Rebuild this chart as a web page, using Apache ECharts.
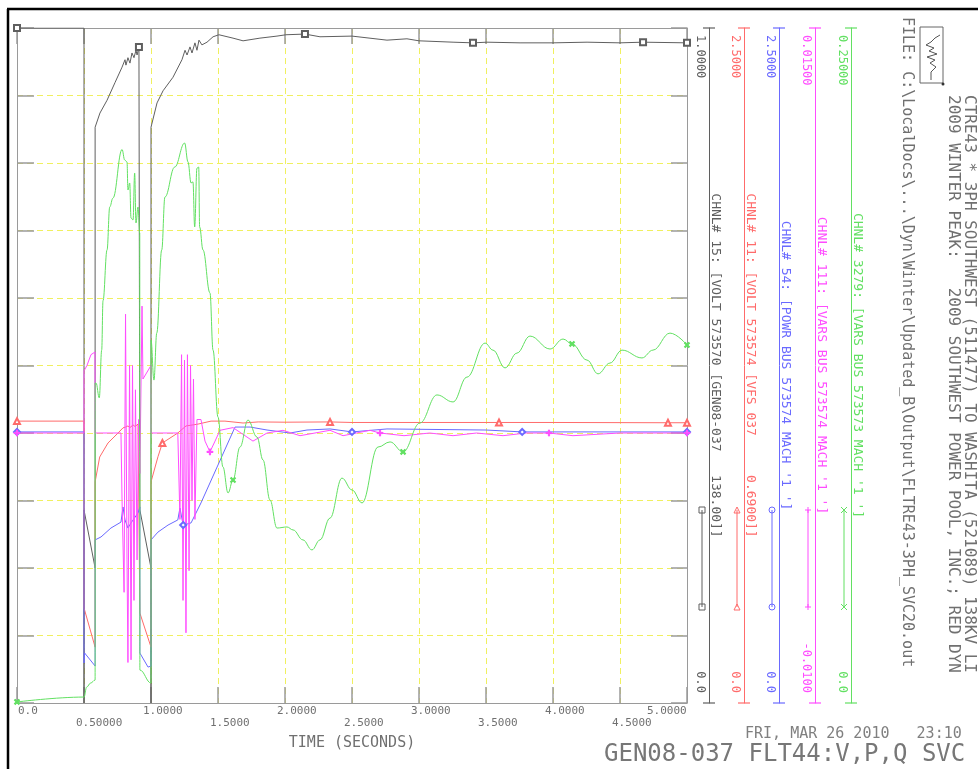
<!DOCTYPE html>
<html>
<head>
<meta charset="utf-8">
<title>GEN08-037 FLT44:V,P,Q SVC</title>
<script src="https://cdn.jsdelivr.net/npm/echarts@6/dist/echarts.min.js"></script>
<style>
  html, body { margin: 0; padding: 0; background: #fff; }
  #chart { width: 978px; height: 769px; }
</style>
</head>
<body>
<div id="chart"></div>
<script>
var FONT = "'DejaVu Sans Mono', 'Liberation Mono', monospace";

// time axis labels (two staggered rows)
var timeLabels = ['0.0', '0.50000', '1.0000', '1.5000', '2.0000', '2.5000', '3.0000', '3.5000', '4.0000', '4.5000', '5.0000'];

// CHNL 15 - generator terminal voltage (pu)
var voltGen = [[0, 1.0], [0.5, 1.0], [0.5, 0], [0.5, 0.286], [0.583, 0.2], [0.583, 0.853], [0.619, 0.874], [0.672, 0.893],
  [0.731, 0.919], [0.784, 0.942], [0.806, 0.953], [0.813, 0.945], [0.828, 0.956], [0.843, 0.948], [0.858, 0.963],
  [0.873, 0.956], [0.888, 0.967], [0.896, 0.96], [0.91, 0.972], [0.917, 0.97], [0.917, 0.286], [1.0, 0.2], [1.0, 0],
  [1.0, 0.853], [1.045, 0.889], [1.09, 0.907], [1.164, 0.927], [1.231, 0.953], [1.254, 0.967], [1.269, 0.96],
  [1.291, 0.972], [1.306, 0.963], [1.328, 0.978], [1.343, 0.967], [1.358, 0.982], [1.38, 0.975], [1.418, 0.979],
  [1.463, 0.987], [1.507, 0.99], [1.612, 0.985], [1.687, 0.981], [1.813, 0.985], [1.94, 0.988], [2.007, 0.99],
  [2.149, 0.991], [2.261, 0.987], [2.5, 0.988], [2.761, 0.982], [2.91, 0.984], [3.0, 0.981], [3.254, 0.979],
  [3.403, 0.978], [3.507, 0.979], [3.754, 0.978], [4.0, 0.978], [4.254, 0.979], [4.5, 0.978], [4.672, 0.979],
  [5.0, 0.978]];
var voltGenMarks = [0, 0.91, 2.149, 3.403, 4.672, 5.0];

// CHNL 11 - SVC bus voltage (pu)
var voltSvc = [[0, 1.044], [0.5, 1.044], [0.5, 0.352], [0.583, 0.207], [0.583, 0.819], [0.617, 0.911], [0.679, 0.963],
  [0.754, 1.0], [0.791, 1.019], [0.81, 1.022], [0.828, 1.026], [0.843, 1.02], [0.866, 1.03], [0.881, 1.024],
  [0.903, 1.033], [0.917, 1.033], [0.917, 0.333], [1.0, 0.207], [1.0, 0.819], [1.052, 0.912], [1.085, 0.963],
  [1.2, 1.0], [1.261, 1.026], [1.351, 1.033], [1.448, 1.044], [1.552, 1.044], [1.687, 1.037], [1.8, 1.041],
  [2.0, 1.04], [2.336, 1.041], [2.5, 1.039], [3.0, 1.039], [3.597, 1.039], [4.0, 1.039], [4.858, 1.038], [5.0, 1.038]];
var voltSvcMarks = [0, 1.085, 2.336, 3.597, 4.858, 5.0];

// CHNL 54 - machine power
var powrMach = [[0, 1.004], [0.5, 1.004], [0.5, 0.148], [0.505, 0.185], [0.583, 0.137], [0.583, 0.604], [0.627, 0.615],
  [0.701, 0.648], [0.776, 0.67], [0.791, 0.726], [0.806, 0.678], [0.828, 0.648], [0.851, 0.667], [0.903, 0.704],
  [0.917, 0.726], [0.917, 0.185], [0.978, 0.133], [1.0, 0.137], [1.0, 0.604], [1.052, 0.633], [1.127, 0.659],
  [1.2, 0.678], [1.216, 0.722], [1.24, 0.659], [1.299, 0.667], [1.373, 0.741], [1.627, 1.022], [1.74, 1.022],
  [1.866, 1.011], [2.037, 1.0], [2.164, 1.011], [2.336, 1.015], [2.5, 1.004], [2.761, 1.015], [3.5, 1.011],
  [3.77, 1.004], [5.0, 1.004]];
var powrMachMarks = [0, 1.24, 2.5, 3.77, 5.0];

// CHNL 111 - machine vars
var varsMach = [[0, 0], [0.5, 0], [0.5, 0.0023], [0.522, 0.0025], [0.552, 0.0029], [0.582, 0.003], [0.583, 0],
  [0.776, 0], [0.784, -0.0025], [0.799, -0.0059], [0.81, 0.0044], [0.821, -0.0047], [0.828, -0.0085], [0.84, 0.0025],
  [0.851, -0.0084], [0.862, 0.0025], [0.873, -0.0062], [0.884, 0.0016], [0.896, -0.0047], [0.907, 0.0005],
  [0.917, -0.0015], [0.933, 0.0047], [0.94, 0.002], [1.0, 0.0025], [1.0, 0], [1.2, 0], [1.216, -0.0032],
  [1.228, 0.0029], [1.239, -0.0062], [1.25, 0.0027], [1.261, -0.0074], [1.272, 0.0029], [1.284, -0.0051],
  [1.295, 0.0025], [1.306, -0.0025], [1.317, 0.002], [1.328, -0.0032], [1.343, 0.0005], [1.373, 0.0005],
  [1.403, -0.0003], [1.44, -0.0007], [1.478, -0.0003], [1.515, 0.0001], [1.612, 0.0002], [1.761, -0.0003],
  [1.866, 0], [1.985, 0.0001], [2.112, -0.0001], [2.336, 0.0001], [2.433, -0.0001], [2.634, 0.0001], [2.709, 0],
  [2.888, -0.0001], [3.08, 0], [3.254, -0.0001], [3.43, 0], [3.627, -0.0001], [3.8, 0], [3.97, 0],
  [4.149, -0.0001], [4.5, 0], [5.0, 0]];
var varsMachMarks = [0, 1.44, 2.709, 3.97, 5.0];

// CHNL 3279 - SVC vars
var varsBus = [[0, 0.0004], [0.5, 0.0022], [0.52, 0.0059], [0.55, 0.0074], [0.583, 0.0085], [0.583, 0.1185],
  [0.59, 0.1185], [0.614, 0.113], [0.632, 0.1307], [0.642, 0.149], [0.672, 0.1678], [0.692, 0.1837], [0.716, 0.187],
  [0.784, 0.205], [0.804, 0.2011], [0.821, 0.2004], [0.828, 0.19], [0.841, 0.1926], [0.851, 0.1796], [0.866, 0.1789],
  [0.878, 0.1963], [0.888, 0.1778], [0.903, 0.1837], [0.916, 0.174], [0.917, 0.0122], [1.0, 0.0074], [1.0, 0.1344],
  [1.022, 0.1196], [1.043, 0.137], [1.08, 0.1678], [1.104, 0.1874], [1.177, 0.1985], [1.251, 0.2074],
  [1.276, 0.2004], [1.299, 0.1926], [1.313, 0.193], [1.326, 0.1763], [1.343, 0.1981], [1.356, 0.1985],
  [1.363, 0.1763], [1.388, 0.1678], [1.44, 0.1519], [1.463, 0.1307], [1.5, 0.1059], [1.537, 0.0874],
  [1.575, 0.0778], [1.612, 0.0826], [1.664, 0.0948], [1.724, 0.1048], [1.791, 0.0985], [1.836, 0.09],
  [1.888, 0.0752], [1.94, 0.0648], [2.015, 0.0652], [2.06, 0.0641], [2.134, 0.0604], [2.201, 0.0567],
  [2.261, 0.0604], [2.336, 0.0685], [2.425, 0.0833], [2.5, 0.0789], [2.575, 0.0741], [2.694, 0.0948],
  [2.784, 0.0967], [2.881, 0.093], [3.007, 0.1037], [3.134, 0.1141], [3.254, 0.1115], [3.358, 0.1207],
  [3.493, 0.1333], [3.552, 0.1307], [3.642, 0.1241], [3.731, 0.1296], [3.828, 0.1359], [3.978, 0.1311],
  [4.075, 0.1348], [4.142, 0.133], [4.254, 0.127], [4.336, 0.1219], [4.425, 0.1259], [4.515, 0.1307],
  [4.664, 0.1278], [4.746, 0.1307], [4.873, 0.137], [5.0, 0.1326]];
var varsBusMarks = [0, 1.612, 2.881, 4.142, 5.0];

// scale bar texts
var chnlTitles = [
  "CHNL# 15: [VOLT 573570 [GEN08-037   138.00]]",
  "CHNL# 11: [VOLT 573574 [VFS_037     0.6900]]",
  "CHNL# 54: [POWR BUS 573574 MACH '1 ']",
  "CHNL# 111: [VARS BUS 573574 MACH '1 ']",
  "CHNL# 3279: [VARS BUS 573573 MACH '1 ']"
];
var scaleMax = [1.0, 2.5, 2.5, 0.015, 0.25];
var scaleMin = [0, 0, 0, -0.01, 0];
var scaleMaxLabels = ['1.0000', '2.5000', '2.5000', '0.01500', '0.25000'];
var scaleMinLabels = ['0.0', '0.0', '0.0', '-0.0100', '0.0'];

var titleLines = [
  'CTRE43 * 3PH SOUTHWEST (511477) TO WASHITA (521089) 138KV LI',
  '2009 WINTER PEAK:   2009 SOUTHWEST POWER POOL, INC.; RED DYN'
];
var fileLine = 'FILE: C:\\LocalDocs\\...\\Dyn\\Winter\\Updated_B\\Output\\FLTRE43-3PH_SVC20.out';
var dateLine = 'FRI, MAR 26 2010   23:10';
var plotTitle = 'GEN08-037 FLT44:V,P,Q SVC';

var PLUS = 'path://M4,0H6V4H10V6H6V10H4V6H0V4H4Z';
var channels = [
  { data: voltGen, marks: voltGenMarks, color: '#5f5f5f', symbol: 'emptyRect', rot: 0, glyph: 'rect', offset: 22, smooth: false },
  { data: voltSvc, marks: voltSvcMarks, color: '#ff6b6b', symbol: 'emptyTriangle', rot: 0, glyph: 'triangle', offset: 57, smooth: false },
  { data: powrMach, marks: powrMachMarks, color: '#6a6aff', symbol: 'emptyDiamond', rot: 0, glyph: 'circle', offset: 92, smooth: false },
  { data: varsMach, marks: varsMachMarks, color: '#ff4cff', symbol: PLUS, rot: 0, glyph: 'plus', offset: 128, smooth: false },
  { data: varsBus, marks: varsBusMarks, color: '#62e062', symbol: PLUS, rot: 45, glyph: 'cross', offset: 164, smooth: 0.4 }
];

var GRID = { left: 17, top: 28, width: 670, height: 675 };
var AXIS_GRAY = '#9a9a9a';
var GRID_YELLOW = '#f0f060';
var TEXT_GRAY = '#707070';

var myChart = echarts.init(document.getElementById('chart'));

// frame axes: left/right carry the 10 divisions, ticks point into the plot
var yAxes = [
  {
    type: 'value', min: 0, max: 10, interval: 1, position: 'left',
    axisLine: { show: true, onZero: false, lineStyle: { color: AXIS_GRAY } },
    axisTick: { show: true, inside: true, length: 17, lineStyle: { color: AXIS_GRAY, width: 1.5 } },
    axisLabel: { show: false },
    splitLine: { show: true, lineStyle: { color: GRID_YELLOW, type: [6, 4] } }
  },
  {
    type: 'value', min: 0, max: 10, interval: 1, position: 'right',
    axisLine: { show: true, onZero: false, lineStyle: { color: AXIS_GRAY } },
    axisTick: { show: true, inside: true, length: 16, lineStyle: { color: AXIS_GRAY, width: 1.5 } },
    axisLabel: { show: false },
    splitLine: { show: false }
  }
];

// one scale bar per channel
channels.forEach(function (ch, i) {
  yAxes.push({
    type: 'value', position: 'right', offset: ch.offset,
    min: scaleMin[i], max: scaleMax[i],
    name: chnlTitles[i], nameLocation: 'middle', nameRotate: -90, nameGap: 0,
    nameMoveOverlap: false,
    nameTextStyle: { color: ch.color, fontFamily: FONT, fontSize: 13 },
    axisLine: {
      show: true, onZero: false,
      lineStyle: { color: ch.color, width: 1 },
      symbol: ['path://M0,0H10V1H0Z', 'path://M0,0H10V1H0Z'],
      symbolSize: [28, 1.2]
    },
    axisTick: { show: false },
    splitLine: { show: false },
    axisLabel: {
      show: true, inside: true, rotate: -90, margin: 9,
      customValues: [scaleMin[i], scaleMax[i]],
      color: ch.color, fontFamily: FONT, fontSize: 12,
      verticalAlign: 'middle',
      alignMinLabel: 'right', alignMaxLabel: 'left',
      padding: [0, 10, 0, 7],
      formatter: function (v) {
        return v === scaleMax[i] ? scaleMaxLabels[i] : scaleMinLabels[i];
      }
    }
  });
});

var series = channels.map(function (ch, i) {
  return {
    type: 'line',
    xAxisIndex: 0,
    yAxisIndex: i + 2,
    data: ch.data,
    smooth: ch.smooth,
    smoothMonotone: 'x',
    showSymbol: true,
    symbol: function (val) {
      return ch.marks.indexOf(val[0]) >= 0 ? ch.symbol : 'none';
    },
    symbolSize: 6,
    symbolRotate: ch.rot,
    lineStyle: { color: ch.color, width: 1 },
    itemStyle: { color: ch.color, borderColor: ch.color, borderWidth: 1 },
    emphasis: { disabled: true },
    z: 3
  };
});

// small legend glyph segments beside each scale bar
function glyph(kind, cx, cy, color) {
  var s = 3;
  var st = { fill: 'none', stroke: color, lineWidth: 1 };
  if (kind === 'rect') return [{ type: 'rect', shape: { x: cx - s, y: cy - s, width: 2 * s, height: 2 * s }, style: st }];
  if (kind === 'triangle') return [{ type: 'polygon', shape: { points: [[cx, cy - s], [cx + s, cy + s], [cx - s, cy + s]] }, style: st }];
  if (kind === 'circle') return [{ type: 'circle', shape: { cx: cx, cy: cy, r: s }, style: st }];
  if (kind === 'plus') return [
    { type: 'line', shape: { x1: cx - s, y1: cy, x2: cx + s, y2: cy }, style: st },
    { type: 'line', shape: { x1: cx, y1: cy - s, x2: cx, y2: cy + s }, style: st }];
  return [
    { type: 'line', shape: { x1: cx - s, y1: cy - s, x2: cx + s, y2: cy + s }, style: st },
    { type: 'line', shape: { x1: cx - s, y1: cy + s, x2: cx + s, y2: cy - s }, style: st }];
}

var graphics = [
  { type: 'line', shape: { x1: 7, y1: 9, x2: 978, y2: 9 }, style: { stroke: '#000', lineWidth: 2.5 } },
  { type: 'line', shape: { x1: 8, y1: 9, x2: 8, y2: 769 }, style: { stroke: '#000', lineWidth: 2.5 } },
  {
    type: 'text', x: 907, y: 17, rotation: -Math.PI / 2,
    style: { text: fileLine, fill: TEXT_GRAY, font: '15px ' + FONT, align: 'left', verticalAlign: 'middle' }
  },
  {
    type: 'text', x: 969, y: 95, rotation: -Math.PI / 2,
    style: { text: titleLines[0], fill: TEXT_GRAY, font: '16px ' + FONT, align: 'left', verticalAlign: 'middle' }
  },
  {
    type: 'text', x: 953, y: 95, rotation: -Math.PI / 2,
    style: { text: titleLines[1], fill: TEXT_GRAY, font: '16px ' + FONT, align: 'left', verticalAlign: 'middle' }
  },
  {
    type: 'text', x: 745, y: 734,
    style: { text: dateLine, fill: '#808080', font: '15px ' + FONT, align: 'left', verticalAlign: 'middle' }
  },
  {
    type: 'text', x: 604, y: 755,
    style: { text: plotTitle, fill: '#777', font: '24px ' + FONT, align: 'left', verticalAlign: 'middle' }
  },
  // logo box
  { type: 'rect', shape: { x: 920, y: 27, width: 23, height: 56 }, style: { fill: 'none', stroke: '#666', lineWidth: 1 } },
  {
    type: 'polyline',
    shape: { points: [[940, 35], [935, 38], [931, 42], [926, 45], [934, 48], [929, 51], [937, 54], [927, 57], [935, 60], [930, 63], [936, 67], [931, 72], [931, 80]] },
    style: { fill: 'none', stroke: '#555', lineWidth: 1 }
  },
  { type: 'circle', shape: { cx: 943, cy: 84, r: 1.5 }, style: { fill: '#333' } }
];

channels.forEach(function (ch) {
  var gx = 687 + ch.offset - 7;
  graphics.push({ type: 'line', shape: { x1: gx, y1: 510, x2: gx, y2: 607 }, style: { stroke: ch.color, lineWidth: 1 } });
  graphics = graphics.concat(glyph(ch.glyph, gx, 510, ch.color), glyph(ch.glyph, gx, 607, ch.color));
});

var option = {
  backgroundColor: '#fff',
  animation: false,
  grid: GRID,
  xAxis: [
    {
      type: 'value', min: 0, max: 5, interval: 0.5, position: 'bottom',
      name: 'TIME (SECONDS)', nameLocation: 'middle', nameGap: 33,
      nameTextStyle: { color: TEXT_GRAY, fontFamily: FONT, fontSize: 15 },
      axisLine: { show: true, onZero: false, lineStyle: { color: AXIS_GRAY } },
      axisTick: { show: true, inside: true, length: 16, lineStyle: { color: AXIS_GRAY, width: 1.5 } },
      splitLine: { show: true, lineStyle: { color: GRID_YELLOW, type: [6, 4] } },
      axisLabel: {
        show: true, interval: 0, margin: 3, align: 'left', verticalAlign: 'top',
        color: TEXT_GRAY, fontFamily: FONT, fontSize: 11,
        showMinLabel: true, showMaxLabel: true, hideOverlap: false,
        formatter: function (v, idx) {
          var s = timeLabels[idx];
          if (idx === 0) return '{z|' + s + '}';
          if (idx === timeLabels.length - 1) return '{e|' + s + '}';
          return idx % 2 ? '{b|' + s + '}' : '{a|' + s + '}';
        },
        rich: {
          z: { fontFamily: FONT, fontSize: 11, color: TEXT_GRAY, padding: [0, 0, 0, 1] },
          a: { fontFamily: FONT, fontSize: 11, color: TEXT_GRAY, padding: [0, 0, 0, -8] },
          b: { fontFamily: FONT, fontSize: 11, color: TEXT_GRAY, padding: [12, 0, 0, -8] },
          e: { fontFamily: FONT, fontSize: 11, color: TEXT_GRAY, padding: [0, 0, 0, -40] }
        }
      }
    },
    {
      type: 'value', min: 0, max: 5, interval: 0.5, position: 'top',
      axisLine: { show: true, onZero: false, lineStyle: { color: AXIS_GRAY } },
      axisTick: { show: true, inside: true, length: 16, lineStyle: { color: AXIS_GRAY, width: 1.5 } },
      axisLabel: { show: false },
      splitLine: { show: false }
    }
  ],
  yAxis: yAxes,
  series: series,
  graphic: graphics
};

myChart.setOption(option);
</script>
</body>
</html>
